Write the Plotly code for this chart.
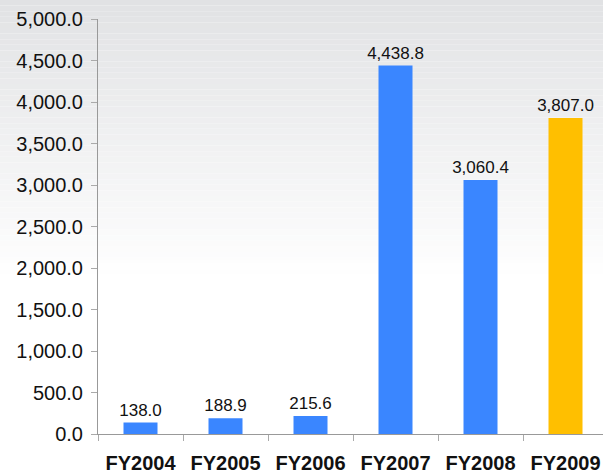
import plotly.graph_objects as go

categories = ["FY2004", "FY2005", "FY2006", "FY2007", "FY2008", "FY2009"]
values = [138.0, 188.9, 215.6, 4438.8, 3060.4, 3807.0]
bar_colors = ["#3a86ff", "#3a86ff", "#3a86ff", "#3a86ff", "#3a86ff", "#ffbf00"]
y_ticks = [0, 500, 1000, 1500, 2000, 2500, 3000, 3500, 4000, 4500, 5000]

fig = go.Figure()
fig.add_trace(go.Bar(
    x=categories, y=values,
    marker=dict(color=bar_colors, line=dict(width=0)),
    width=0.4,
    texttemplate="%{y:,.1f}", textposition="outside", constraintext="none",
    textfont=dict(family="Liberation Sans", size=17, color="#111111"),
    cliponaxis=False,
))

# background gradient (light grey at top fading to white)
shapes = []
n = 50
top_px, bottom_px = 0, 280
plot_top, plot_bottom = 19, 434
ph = plot_bottom - plot_top
for i in range(n):
    y0p = top_px + (bottom_px - top_px) * i / n
    y1p = top_px + (bottom_px - top_px) * (i + 1) / n
    t = (i + 0.5) / n
    c0 = (225, 226, 228)
    col = tuple(round(c0[k] + (255 - c0[k]) * t) for k in range(3))
    shapes.append(dict(
        type="rect", xref="paper", yref="paper", layer="below",
        x0=-0.3, x1=1.1,
        y0=(plot_bottom - y1p) / ph, y1=(plot_bottom - y0p) / ph,
        line=dict(width=0), fillcolor="rgb(%d,%d,%d)" % col,
    ))

fig.update_layout(
    width=603, height=476,
    margin=dict(l=98, r=0, t=19, b=42),
    paper_bgcolor="white", plot_bgcolor="rgba(0,0,0,0)",
    shapes=shapes, showlegend=False,
    font=dict(family="Liberation Sans", color="#111111"),
)
fig.update_xaxes(
    range=[-0.5, 5.441], tickson="boundaries", ticks="outside", ticklen=6,
    tickcolor="#aaaaaa", showline=True, linecolor="#999999", linewidth=1,
    showgrid=False, tickfont=dict(size=20, weight="bold", color="#111111"),
    ticklabelstandoff=11,
)
fig.update_yaxes(
    range=[0, 5000], tickvals=y_ticks, tickformat=",.1f", ticks="outside",
    ticklen=6, tickcolor="#aaaaaa", showline=True, linecolor="#999999",
    linewidth=1, showgrid=False, zeroline=False,
    tickfont=dict(size=20, color="#111111"), ticklabelstandoff=4,
)

fig.write_html("out.html")
